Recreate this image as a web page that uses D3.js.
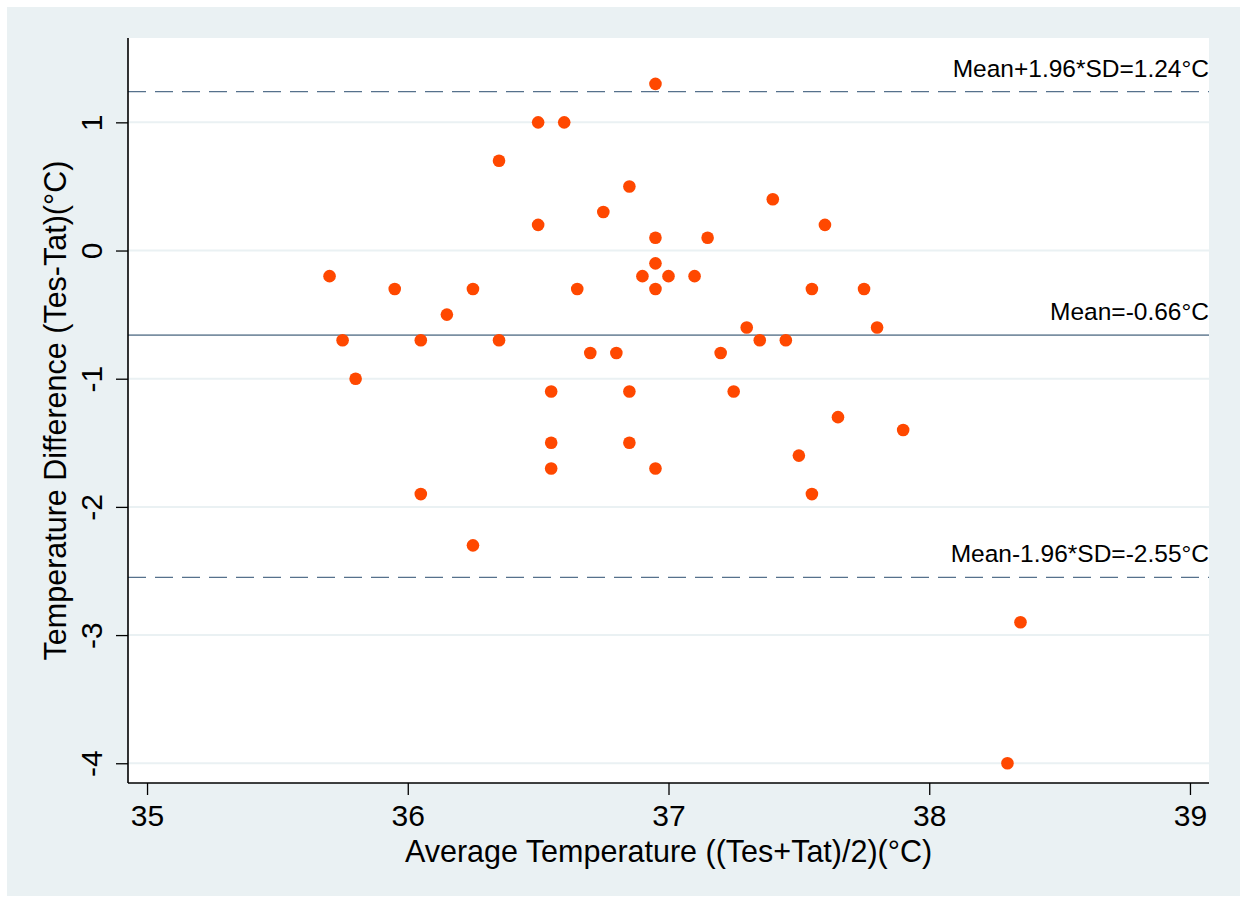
<!DOCTYPE html>
<html>
<head>
<meta charset="utf-8">
<script src="https://cdnjs.cloudflare.com/ajax/libs/d3/7.8.5/d3.min.js"></script>
<style>
  html, body { margin: 0; padding: 0; background: #fff; }
  text { font-family: "Liberation Sans", Arial, Helvetica, sans-serif; fill: #000; }
</style>
</head>
<body>
<div id="chart"></div>
<script>
'use strict';

// average temperature ((Tes+Tat)/2), one per subject
var avgTemp = [35.70, 35.75, 35.80, 35.95, 36.05, 36.05, 36.15, 36.25, 36.25, 36.35,
  36.35, 36.50, 36.50, 36.55, 36.55, 36.55, 36.60, 36.65, 36.70, 36.75,
  36.80, 36.85, 36.85, 36.85, 36.90, 36.95, 36.95, 36.95, 36.95, 36.95,
  37.00, 37.10, 37.15, 37.20, 37.25, 37.30, 37.35, 37.40, 37.45, 37.50,
  37.55, 37.55, 37.60, 37.65, 37.75, 37.80, 37.90, 38.30, 38.35];
// temperature difference (Tes-Tat)
var tempDiff = [-0.2, -0.7, -1.0, -0.3, -0.7, -1.9, -0.5, -0.3, -2.3, 0.7,
  -0.7, 1.0, 0.2, -1.1, -1.5, -1.7, 1.0, -0.3, -0.8, 0.3,
  -0.8, 0.5, -1.1, -1.5, -0.2, 1.3, 0.1, -0.1, -0.3, -1.7,
  -0.2, -0.2, 0.1, -0.8, -1.1, -0.6, -0.7, 0.4, -0.7, -1.6,
  -0.3, -1.9, 0.2, -1.3, -0.3, -0.6, -1.4, -4.0, -2.9];

var xTicks = [35, 36, 37, 38, 39];
var yTicks = [1, 0, -1, -2, -3, -4];

var refValues = [1.24, -0.66, -2.55];
var refLabels = ['Mean+1.96*SD=1.24°C', 'Mean=-0.66°C', 'Mean-1.96*SD=-2.55°C'];
var refDashed = [true, false, true];

var width = 1243, height = 903;
var plotL = 128, plotR = 1209, plotT = 38, plotB = 783;

var svg = d3.select('#chart').append('svg')
  .attr('width', width)
  .attr('height', height);

// graph region
svg.append('rect')
  .attr('x', 7).attr('y', 7)
  .attr('width', 1233).attr('height', 889)
  .attr('fill', '#eaf1f3');

// plot region
svg.append('rect')
  .attr('x', plotL).attr('y', plotT)
  .attr('width', plotR - plotL).attr('height', plotB - plotT)
  .attr('fill', '#fff');

var x = d3.scaleLinear().domain([34.927, 39.073]).range([plotL, plotR]);
var y = d3.scaleLinear().domain([-4.154, 1.658]).range([plotB, plotT]);

// plain hyphen for negatives, like the original
var fmt = function(d) { return String(d); };

// gridlines
svg.selectAll('line.grid')
  .data(yTicks)
  .enter()
  .append('line')
  .attr('class', 'grid')
  .attr('x1', plotL).attr('x2', plotR)
  .attr('y1', function(d) { return y(d); })
  .attr('y2', function(d) { return y(d); })
  .attr('stroke', '#eaf1f3')
  .attr('stroke-width', 2);

// reference lines
svg.selectAll('line.ref')
  .data(refValues)
  .enter()
  .append('line')
  .attr('class', 'ref')
  .attr('x1', plotL).attr('x2', plotR)
  .attr('y1', function(d) { return y(d); })
  .attr('y2', function(d) { return y(d); })
  .attr('stroke', function(d, i) { return refDashed[i] ? '#56718c' : '#7a8fa2'; })
  .attr('stroke-width', function(d, i) { return refDashed[i] ? 1.4 : 1.8; })
  .attr('stroke-dasharray', function(d, i) { return refDashed[i] ? '18,9' : null; });

svg.selectAll('text.ref')
  .data(refValues)
  .enter()
  .append('text')
  .attr('class', 'ref')
  .attr('x', 1209)
  .attr('y', function(d) { return y(d) - 15; })
  .attr('text-anchor', 'end')
  .attr('font-size', '24.5px')
  .text(function(d, i) { return refLabels[i]; });

// points
svg.selectAll('circle')
  .data(avgTemp)
  .enter()
  .append('circle')
  .attr('cx', function(d) { return x(d); })
  .attr('cy', function(d, i) { return y(tempDiff[i]); })
  .attr('r', 6.3)
  .attr('fill', '#ff4800');

// axes
var xAxis = svg.append('g')
  .attr('transform', 'translate(0,' + plotB + ')')
  .call(d3.axisBottom(x).tickValues(xTicks).tickSize(12).tickPadding(10).tickFormat(fmt));
xAxis.select('.domain').attr('d', 'M' + plotL + ',0H' + plotR).attr('stroke', '#000').attr('stroke-width', 1.6);
xAxis.selectAll('.tick line').attr('stroke', '#000').attr('stroke-width', 1.3);
xAxis.selectAll('.tick text').attr('font-size', '30px').attr('font-family', null).attr('dy', '0.71em');

var yAxis = svg.append('g')
  .attr('transform', 'translate(' + plotL + ',0)')
  .call(d3.axisLeft(y).tickValues(yTicks).tickSize(12).tickFormat(fmt));
yAxis.select('.domain').attr('d', 'M0,' + plotT + 'V' + plotB).attr('stroke', '#000').attr('stroke-width', 1.6);
yAxis.selectAll('.tick line').attr('stroke', '#000').attr('stroke-width', 1.3);
yAxis.selectAll('.tick text')
  .attr('font-size', '30px')
  .attr('font-family', null)
  .attr('x', null)
  .attr('dy', null)
  .attr('text-anchor', 'middle')
  .attr('transform', 'translate(-26,0) rotate(-90)');
svg.selectAll('.domain').attr('fill', 'none');

// axis titles
svg.append('text')
  .attr('x', (plotL + plotR) / 2)
  .attr('y', 862)
  .attr('text-anchor', 'middle')
  .attr('font-size', '30.5px')
  .text('Average Temperature ((Tes+Tat)/2)(°C)');

svg.append('text')
  .attr('transform', 'translate(66,' + ((plotT + plotB) / 2) + ') rotate(-90)')
  .attr('text-anchor', 'middle')
  .attr('font-size', '30.5px')
  .text('Temperature Difference (Tes-Tat)(°C)');
</script>
</body>
</html>
